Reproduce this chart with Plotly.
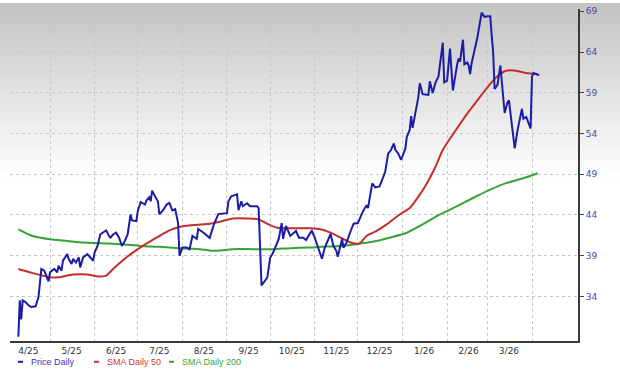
import pandas as pd
import plotly.graph_objects as go

base_date = "2025-04-01"

# Price Daily: calendar days since base_date, closing value
price_days = [8, 9, 10, 11, 13, 15, 17, 20, 22, 24, 26, 28, 29, 30, 32, 33, 35, 36, 38, 39,
              42, 43, 45, 46, 48, 50, 51, 53, 56, 60, 61, 63, 65, 67, 69, 71, 72, 74, 76, 78,
              80, 82, 84, 86, 87, 90, 91, 93, 96, 97, 99, 100, 101, 103, 105, 106, 109, 111, 113, 115,
              117, 119, 120, 122, 125, 127, 129, 132, 133, 137, 141, 144, 147, 153, 154, 156, 160, 161, 163, 164,
              167, 169, 174, 175, 177, 181, 183, 185, 189, 191, 192, 194, 197, 201, 203, 206, 208, 211, 212, 214,
              216, 218, 219, 221, 223, 225, 227, 229, 230, 232, 233, 234, 236, 239, 241, 244, 247, 250, 251, 253,
              254, 256, 259, 261, 263, 265, 267, 269, 270, 272, 274, 277, 278, 280, 281, 282, 284, 286, 287, 289,
              293, 294, 296, 298, 300, 302, 303, 304, 306, 308, 310, 313, 314, 315, 317, 318, 320, 321, 322, 323,
              325, 327, 330, 332, 334, 336, 337, 338, 339, 341, 343, 345, 346, 348, 349, 351, 353, 355, 358, 359,
              361, 364, 365, 366, 368, 370]
price_values = [29.05, 33.51, 31.17, 33.51, 33.31, 32.91, 32.70, 32.78, 33.91, 37.37,
                37.16, 36.35, 35.86, 36.96, 37.25, 37.37, 36.96, 37.77, 37.16, 38.38,
                39.19, 38.59, 37.98, 38.59, 38.17, 38.78, 37.56, 38.78, 39.19, 38.38,
                39.39, 40.20, 41.63, 41.82, 42.11, 41.42, 41.21, 41.63, 41.82, 41.21,
                40.20, 40.81, 41.63, 44.06, 43.33, 43.25, 44.46, 45.59, 45.28, 45.76,
                46.17, 45.68, 46.98, 46.29, 45.68, 44.06, 44.67, 45.28, 45.47, 44.55,
                44.71, 43.04, 38.99, 40.00, 40.00, 39.80, 41.42, 41.06, 42.27, 41.79,
                41.18, 42.88, 44.10, 44.22, 45.68, 46.29, 46.53, 44.58, 45.68, 45.07,
                45.44, 45.07, 45.07, 44.83, 35.34, 36.31, 38.74, 39.35, 41.06, 43.00,
                41.06, 42.64, 41.42, 42.03, 41.21, 41.21, 40.93, 41.82, 42.03, 41.21,
                40.20, 39.39, 38.62, 40.00, 40.81, 41.66, 40.20, 39.60, 38.87, 40.20,
                41.06, 39.96, 40.57, 42.03, 42.92, 43.00, 44.26, 45.19, 44.83, 46.89,
                47.87, 47.38, 47.50, 48.35, 49.33, 51.52, 51.97, 52.77, 52.00, 51.55,
                50.75, 52.16, 53.59, 54.44, 56.14, 54.68, 56.63, 58.45, 60.15, 58.82,
                58.73, 60.40, 58.97, 60.28, 61.01, 63.52, 65.14, 60.28, 60.48, 64.41,
                59.27, 62.47, 63.20, 62.83, 65.51, 62.50, 62.71, 62.34, 61.29, 62.59,
                64.29, 65.75, 68.83, 68.31, 68.39, 68.39, 65.96, 64.05, 59.46, 59.97,
                62.34, 58.82, 56.51, 57.84, 58.05, 55.05, 52.16, 54.44, 57.03, 55.81,
                56.02, 54.62, 61.01, 61.41, 61.29, 61.13]

# SMA Daily 50
sma50_days = [8, 16, 30, 36, 46, 56, 64, 69, 75, 83, 90, 97, 104, 113, 120, 130, 141, 148, 157, 167,
              175, 181, 188, 197, 211, 218, 225, 232, 239, 245, 250, 257, 264, 273, 280, 287, 292, 298, 303, 312,
              319, 327, 334, 340, 347, 354, 361, 369]
sma50_values = [37.37, 36.96, 36.35, 36.35, 36.68, 36.68, 36.43, 36.55, 37.56, 38.78,
                39.68, 40.48, 41.21, 42.11, 42.52, 42.76, 42.92, 43.16, 43.57, 43.57,
                43.45, 42.92, 42.43, 42.36, 42.36, 42.24, 41.82, 41.21, 40.62, 40.50,
                41.42, 42.03, 42.84, 44.06, 44.86, 46.49, 47.90, 49.94, 51.97, 54.40,
                56.20, 58.05, 59.67, 60.88, 61.70, 61.70, 61.41, 61.29]

# SMA Daily 200
sma200_days = [8, 18, 30, 42, 53, 65, 79, 93, 106, 120, 134, 143, 157, 171, 185, 197, 211, 218, 232, 243,
               255, 266, 278, 289, 301, 313, 324, 336, 347, 359, 369]
sma200_values = [42.24, 41.42, 41.02, 40.81, 40.61, 40.53, 40.41, 40.20, 40.08, 39.92,
                 39.80, 39.60, 39.80, 39.80, 39.80, 39.92, 40.00, 40.08, 40.20, 40.41,
                 40.73, 41.21, 41.82, 42.84, 44.06, 45.07, 46.08, 47.10, 47.90, 48.51, 49.12]

month_starts = ["2025-04-01", "2025-05-01", "2025-06-01", "2025-07-01", "2025-08-01", "2025-09-01",
                "2025-10-01", "2025-11-01", "2025-12-01", "2026-01-01", "2026-02-01", "2026-03-01",
                "2026-04-01"]
month_labels = ["4/25", "5/25", "6/25", "7/25", "8/25", "9/25", "10/25", "11/25", "12/25",
                "1/26", "2/26", "3/26"]
y_ticks = [34, 39, 44, 49, 54, 59, 64, 69]

series_names = ["Price Daily", "SMA Daily 50", "SMA Daily 200"]
series_colors = ["#1c1ca4", "#c3302c", "#37a337"]
legend_text_colors = ["#3535b5", "#d03a3a", "#3aa53a"]


def to_dates(days):
    return pd.Timestamp(base_date) + pd.to_timedelta(days, unit="D")


fig = go.Figure()
for name, days, vals, col, shape in [
    (series_names[2], sma200_days, sma200_values, series_colors[2], "spline"),
    (series_names[1], sma50_days, sma50_values, series_colors[1], "spline"),
    (series_names[0], price_days, price_values, series_colors[0], "linear"),
]:
    line = dict(color=col, width=2, shape=shape)
    if shape == "spline":
        line["smoothing"] = 0.7
    fig.add_trace(go.Scatter(x=to_dates(days), y=vals, mode="lines", name=name,
                             line=line, showlegend=False))

# layout geometry (pixels)
W, H = 620, 369
L, R, T, B = 10, 578, 6, 341
pw, ph = R - L, B - T


def px_x(x):
    return (x - L) / pw


def px_y(y):
    return (B - y) / ph


shapes = []
# background gradient (grey top fading to white)
n_bands = 36
grad_h = 175
for i in range(n_bands):
    y0 = i * grad_h / n_bands
    y1 = (i + 1) * grad_h / n_bands + 1
    c = int(round(195 + (255 - 195) * (y0 + grad_h / n_bands / 2) / grad_h))
    c = min(c, 255)
    shapes.append(dict(type="rect", xref="paper", yref="paper", layer="below",
                       x0=px_x(0), x1=px_x(W), y0=px_y(y1), y1=px_y(y0),
                       fillcolor=f"rgb({c},{c},{c})", line=dict(width=0)))

# custom legend
legend_dash_x = [18, 94, 169]
legend_text_x = [29, 105, 180]
legend_y = 362
annotations = []
for name, dx, tx, col, tcol in zip(series_names, legend_dash_x, legend_text_x, series_colors, legend_text_colors):
    shapes.append(dict(type="line", xref="paper", yref="paper", x0=px_x(dx), x1=px_x(dx + 5),
                       y0=px_y(legend_y), y1=px_y(legend_y), line=dict(color=col, width=2)))
    annotations.append(dict(text=name, xref="paper", yref="paper", x=px_x(tx), y=px_y(legend_y),
                            xanchor="left", yanchor="middle", showarrow=False,
                            font=dict(family="Liberation Sans", size=9, color=tcol)))

mid_months = [pd.Timestamp(m) + pd.Timedelta(days=15) for m in month_starts[:-1]]

# axis range from pixel geometry
px_per_day = (532 - 50) / 335.0
x_left = pd.Timestamp("2025-05-01") - pd.Timedelta(days=(50 - L) / px_per_day)
x_right = pd.Timestamp("2026-04-01") + pd.Timedelta(days=(R - 532) / px_per_day)
px_per_unit = (296 - 8.3) / 35.0
y_bottom = 34 - (B - 296) / px_per_unit
y_top = 34 + (296 - T) / px_per_unit

fig.update_layout(
    width=W, height=H,
    margin=dict(l=L, r=W - R, t=T, b=H - B),
    paper_bgcolor="white",
    plot_bgcolor="rgba(0,0,0,0)",
    shapes=shapes,
    annotations=annotations,
    showlegend=False,
    xaxis=dict(
        type="date",
        range=[x_left, x_right],
        tickmode="array",
        tickvals=mid_months,
        ticktext=month_labels,
        ticks="",
        showgrid=False,
        zeroline=False,
        showline=True, linecolor="#3a3a3a", linewidth=2,
        tickfont=dict(family="DejaVu Sans", size=9, color="#333333"),
        minor=dict(tickmode="array", tickvals=month_starts, showgrid=True,
                   gridcolor="#c8c8c8", griddash="dot", gridwidth=1, ticks=""),
    ),
    yaxis=dict(
        side="right",
        range=[y_bottom, y_top],
        tickmode="array",
        tickvals=y_ticks,
        ticks="outside", ticklen=4, tickcolor="#444444", tickwidth=1,
        showgrid=True, gridcolor="#c8c8c8", griddash="dot", gridwidth=1,
        zeroline=False,
        showline=True, linecolor="#3a3a3a", linewidth=2,
        tickfont=dict(family="DejaVu Sans", size=9, color="#4848a8"),
    ),
)

fig.write_html("out.html", config={"displayModeBar": False},
               post_script="document.body.style.margin='0px';")
